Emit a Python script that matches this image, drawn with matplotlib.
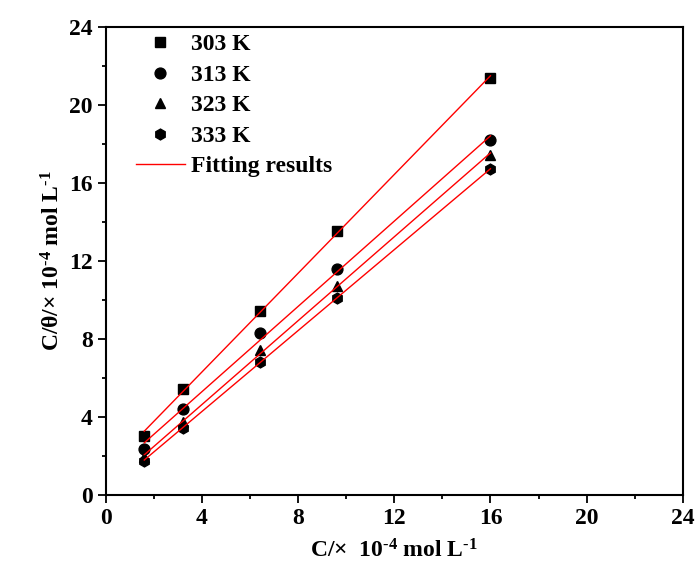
import numpy as np
import matplotlib
matplotlib.use("Agg")
import matplotlib.pyplot as plt

# data
conc = [1.6, 3.2, 6.4, 9.6, 16.0]
y303 = [3.03, 5.44, 9.42, 13.54, 21.38]
y313 = [2.36, 4.40, 8.32, 11.58, 18.20]
y323 = [1.95, 3.72, 7.42, 10.72, 17.45]
y333 = [1.75, 3.45, 6.82, 10.12, 16.70]
labels = ["303 K", "313 K", "323 K", "333 K"]
markers = ["s", "o", "^", "h"]

plt.rcParams["font.family"] = ["Liberation Serif", "DejaVu Serif"]
plt.rcParams["font.weight"] = "bold"
plt.rcParams["mathtext.default"] = "regular"

fig = plt.figure(figsize=(6.96, 5.8), dpi=100)
ax = fig.add_axes([0.152, 0.1466, 0.829, 0.8068])

handles = []
for ys, lab, m in zip([y303, y313, y323, y333], labels, markers):
    h, = ax.plot(conc, ys, m, color="black", markersize=7.8, linestyle="none", label=lab)
    handles.append(h)
    # linear fit for each temperature
    k, b = np.polyfit(conc, ys, 1)
    xx = np.array([conc[0], conc[-1]])
    fl, = ax.plot(xx, k * xx + b, color="red", lw=1)
fl.set_label("Fitting results")
handles.append(fl)

ax.set_xlim(0, 24)
ax.set_ylim(0, 24)
ax.set_xticks(range(0, 25, 4))
ax.set_yticks(range(0, 25, 4))
ax.set_xticks(range(2, 24, 4), minor=True)
ax.set_yticks(range(2, 24, 4), minor=True)
ax.tick_params(which="major", length=6, width=1.3, labelsize=17)
ax.tick_params(which="minor", length=3, width=1.3)
for lbl in ax.get_xticklabels() + ax.get_yticklabels():
    lbl.set_fontweight("bold")
for sp in ax.spines.values():
    sp.set_linewidth(1.5)

sup4 = "$^{\u2010" + "4}$"
sup1 = "$^{\u2010" + "1}$"
ax.set_xlabel("C/\u00d7  10" + sup4 + " mol L" + sup1, fontsize=17, fontweight="bold", labelpad=7)
ax.set_ylabel("C/\u03b8/\u00d7 10" + sup4 + " mol L" + sup1, fontsize=17, fontweight="bold", labelpad=3)

ax.legend(handles=handles, loc="upper left", bbox_to_anchor=(0.015, 1.031), frameon=False,
          prop={"size": 17, "weight": "bold"}, handlelength=2.1, handletextpad=0.25,
          labelspacing=0.38)

fig.savefig("out.png", dpi=100)
